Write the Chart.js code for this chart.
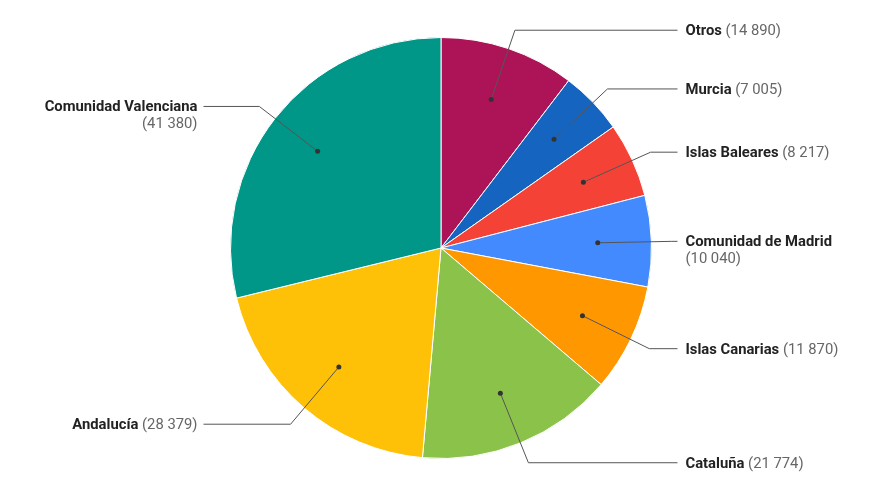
<!DOCTYPE html>
<html lang="es">
<head>
    <meta charset="UTF-8">
    <script src="https://cdn.jsdelivr.net/npm/chart.js@4.4.0/dist/chart.umd.min.js"></script>
    <title>Pie</title>
    <style>
        html, body { margin: 0; padding: 0; background: #fff; }
        #wrap { width: 876px; height: 489px; }
    </style>
</head>
<body>
    <div id="wrap"><canvas id="pieChart" width="876" height="489"></canvas></div>

<script>
    // datos
    var regiones = ['Otros', 'Murcia', 'Islas Baleares', 'Comunidad de Madrid', 'Islas Canarias', 'Cataluña', 'Andalucía', 'Comunidad Valenciana'];
    var valores = [14890, 7005, 8217, 10040, 11870, 21774, 28379, 41380];
    var colores = ['#AD1457', '#1565C0', '#F44336', '#448AFF', '#FF9800', '#8BC34A', '#FFC107', '#009688'];

    function fmt(n) {
        return String(n).replace(/\B(?=(\d{3})+(?!\d))/g, ' ');
    }

    // etiquetas con lineas guia
    var etiquetas = {
        id: 'etiquetas',
        afterDatasetsDraw: function (chart) {
            var ctx = chart.ctx;
            var meta = chart.getDatasetMeta(0);
            var bold = 'bold 14.8px Roboto';
            var normal = '14.8px Roboto';
            ctx.save();
            meta.data.forEach(function (arc, i) {
                var a = (arc.startAngle + arc.endAngle) / 2;
                var R = arc.outerRadius;
                var cx = arc.x, cy = arc.y;
                var dx = cx + Math.cos(a) * R * 0.745;
                var dy = cy + Math.sin(a) * R * 0.745;
                var ex = cx + Math.cos(a) * R * 1.097;
                var ey = cy + Math.sin(a) * R * 1.097 + 1;
                var right = Math.cos(a) >= 0;
                var lx = right ? cx + R + 26 : cx - R - 27;
                var tx = right ? cx + R + 34 : cx - R - 33;

                ctx.strokeStyle = '#555';
                ctx.lineWidth = 1;
                ctx.beginPath();
                ctx.moveTo(dx, dy);
                ctx.lineTo(ex, ey);
                ctx.lineTo(lx, ey);
                ctx.stroke();

                ctx.fillStyle = '#333';
                ctx.beginPath();
                ctx.arc(dx, dy, 2.5, 0, Math.PI * 2);
                ctx.fill();

                var nombre = regiones[i];
                var valor = '(' + fmt(valores[i]) + ')';
                ctx.font = bold;
                var wn = ctx.measureText(nombre + ' ').width;
                ctx.font = normal;
                var wv = ctx.measureText(valor).width;
                var avail = right ? chart.width - tx : tx;
                var by = ey + 5;
                ctx.textBaseline = 'alphabetic';
                if (wn + wv <= avail) {
                    var x0 = right ? tx : tx - wn - wv;
                    ctx.textAlign = 'left';
                    ctx.font = bold;
                    ctx.fillStyle = '#222';
                    ctx.fillText(nombre, x0, by);
                    ctx.font = normal;
                    ctx.fillStyle = '#666';
                    ctx.fillText(valor, x0 + wn, by);
                } else {
                    ctx.textAlign = right ? 'left' : 'right';
                    ctx.font = bold;
                    ctx.fillStyle = '#222';
                    ctx.fillText(nombre, tx, by);
                    ctx.font = normal;
                    ctx.fillStyle = '#666';
                    ctx.fillText(valor, tx, by + 17);
                }
            });
            ctx.restore();
        }
    };

    var pieChart = new Chart(document.getElementById('pieChart').getContext('2d'), {
        type: 'pie',
        data: {
            labels: regiones,
            datasets: [{
                data: valores,
                backgroundColor: colores,
                borderColor: '#fff',
                borderWidth: 1
            }]
        },
        options: {
            responsive: false,
            animation: false,
            layout: { padding: { top: 37, bottom: 30, left: 230, right: 224 } },
            plugins: {
                legend: { display: false },
                tooltip: { enabled: false }
            }
        },
        plugins: [etiquetas]
    });
</script>
</body>
</html>
